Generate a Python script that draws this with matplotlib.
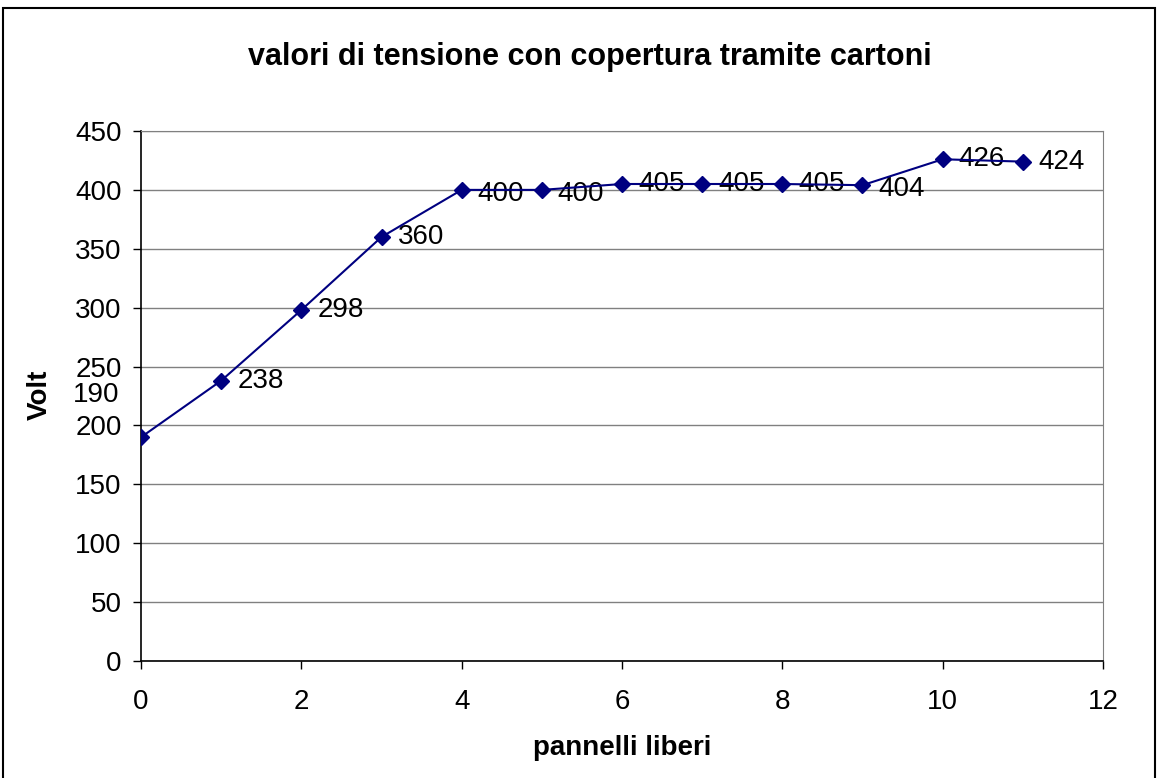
import matplotlib.pyplot as plt
from matplotlib.patches import Rectangle

plt.rcParams['font.family'] = ['Liberation Sans', 'DejaVu Sans']

# data
pannelli = [0, 1, 2, 3, 4, 5, 6, 7, 8, 9, 10, 11]
volt = [190, 238, 298, 360, 400, 400, 405, 405, 405, 404, 426, 424]
y_ticks = [0, 50, 100, 150, 200, 250, 300, 350, 400, 450]
x_ticks = [0, 2, 4, 6, 8, 10, 12]

fig = plt.figure(figsize=(11.58, 7.78), dpi=100)
ax = fig.add_axes([141 / 1158, 1 - 661 / 778, 962 / 1158, 530 / 778])

ax.plot(pannelli, volt, color='#000080', lw=1.5, marker='D', ms=8.5,
        markerfacecolor='#000080', markeredgecolor='#000080', zorder=3)

# data labels right of each point (first one ends up next to the axis, as in the original)
for x, y in zip(pannelli, volt):
    if x == 0:
        ax.annotate(str(y), xy=(x, y), xytext=(-22, 42), textcoords='offset pixels',
                    ha='right', va='center', fontsize=20, annotation_clip=False)
    else:
        dy = -4 if y in (400, 404) else 0
        ax.annotate(str(y), xy=(x, y), xytext=(16, dy), textcoords='offset pixels',
                    ha='left', va='center', fontsize=20, zorder=2)

ax.set_xlim(0, 12)
ax.set_ylim(0, 450)
ax.set_xticks(x_ticks)
ax.set_yticks(y_ticks)
ax.tick_params(labelsize=20, direction='out', length=6, width=1)
ax.tick_params(axis='y', pad=8)
ax.tick_params(axis='x', pad=14)
ax.yaxis.grid(True, color='#808080', lw=1)
ax.set_axisbelow(True)

for s in ['top', 'right']:
    ax.spines[s].set_color('#808080')
for s in ['left', 'bottom']:
    ax.spines[s].set_color('black')
    ax.spines[s].set_linewidth(1.2)

fig.text(590 / 1158, 1 - 57 / 778, 'valori di tensione con copertura tramite cartoni',
         ha='center', va='center', fontsize=22, fontweight='bold')
fig.text(622 / 1158, 1 - 748 / 778, 'pannelli liberi', ha='center', va='center',
         fontsize=20, fontweight='bold')
fig.text(40 / 1158, 1 - 395 / 778, 'Volt', ha='center', va='center', rotation=90,
         fontsize=20, fontweight='bold')

fig.patches.append(Rectangle((3 / 1158, -0.01), 1152 / 1158, 1 - 8 / 778 + 0.01,
                             transform=fig.transFigure, fill=False, ec='black', lw=1.5))

fig.savefig('out.png', dpi=100)
